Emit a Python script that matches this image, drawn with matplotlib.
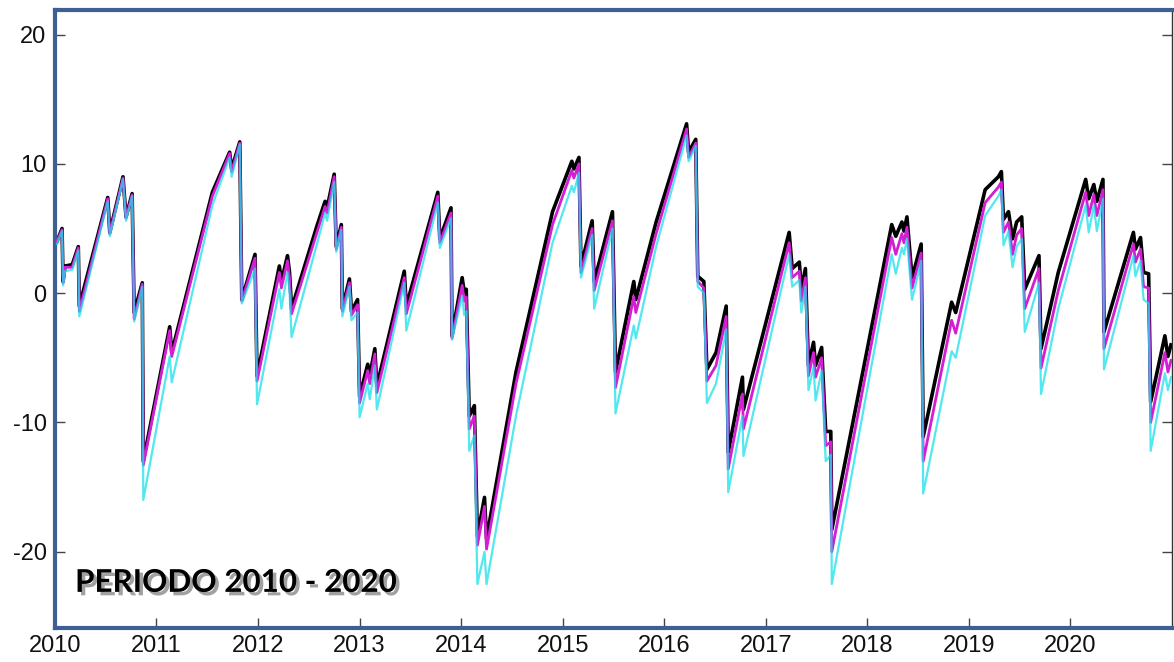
import matplotlib
matplotlib.use("Agg")
import matplotlib.pyplot as plt
import matplotlib.patheffects as pe

# breakpoints of the series (decimal year, value)
years = [2010.02, 2010.07, 2010.08, 2010.10, 2010.17, 2010.23, 2010.24, 2010.52, 2010.54,
         2010.67, 2010.70, 2010.76, 2010.78, 2010.86, 2010.87, 2011.13, 2011.15, 2011.55,
         2011.72, 2011.74, 2011.82, 2011.84, 2011.97, 2011.99, 2012.21, 2012.23, 2012.29,
         2012.31, 2012.33, 2012.58, 2012.66, 2012.68, 2012.75, 2012.77, 2012.82, 2012.83,
         2012.90, 2012.92, 2012.98, 2013.00, 2013.08, 2013.10, 2013.15, 2013.17, 2013.44,
         2013.46, 2013.77, 2013.79, 2013.90, 2013.91, 2014.01, 2014.03, 2014.05, 2014.08,
         2014.13, 2014.16, 2014.23, 2014.25, 2014.54, 2014.90, 2015.09, 2015.11, 2015.16,
         2015.18, 2015.29, 2015.31, 2015.49, 2015.52, 2015.70, 2015.72, 2015.92, 2016.22,
         2016.24, 2016.31, 2016.33, 2016.39, 2016.42, 2016.51, 2016.61, 2016.63, 2016.77,
         2016.78, 2017.23, 2017.26, 2017.33, 2017.35, 2017.39, 2017.42, 2017.47, 2017.49,
         2017.55, 2017.59, 2017.64, 2017.65, 2018.24, 2018.28, 2018.34, 2018.36, 2018.39,
         2018.44, 2018.53, 2018.55, 2018.83, 2018.87, 2019.16, 2019.29, 2019.32, 2019.34,
         2019.39, 2019.43, 2019.47, 2019.52, 2019.55, 2019.69, 2019.71, 2019.88, 2020.15,
         2020.18, 2020.23, 2020.26, 2020.32, 2020.33, 2020.62, 2020.64, 2020.69, 2020.72,
         2020.77, 2020.79, 2020.93, 2020.96, 2020.99]

black = [4.0, 5.0, 0.9, 2.1, 2.2, 3.6, -1.0, 7.4, 4.7,
         9.0, 5.9, 7.7, -1.5, 0.8, -13.0, -2.6, -4.6, 7.8,
         10.9, 9.6, 11.7, -0.5, 3.0, -6.4, 2.1, 0.9, 2.9,
         1.6, -1.2, 5.2, 7.1, 6.6, 9.2, 3.6, 5.3, -1.2,
         1.1, -1.4, -0.5, -8.0, -5.5, -6.4, -4.3, -7.2, 1.7,
         -1.0, 7.8, 4.2, 6.6, -3.3, 1.2, 0.1, 0.3, -9.5,
         -8.7, -18.8, -15.8, -19.0, -6.1, 6.3, 10.2, 9.6, 10.5,
         2.1, 5.6, 0.9, 6.3, -6.1, 0.9, -0.5, 5.5, 13.1,
         10.9, 11.9, 1.3, 0.9, -5.9, -4.6, -1.0, -12.3, -6.5,
         -9.0, 4.7, 1.9, 2.4, 0.3, 1.9, -5.6, -3.8, -5.6,
         -4.2, -10.7, -10.7, -18.3, 5.3, 4.4, 5.5, 4.8, 5.9,
         1.2, 3.8, -11.1, -0.7, -1.5, 8.0, 9.0, 9.4, 5.7,
         6.3, 4.2, 5.5, 5.9, 0.3, 2.9, -4.3, 1.6, 8.8,
         7.3, 8.4, 7.1, 8.8, -3.0, 4.7, 3.4, 4.3, 1.6,
         1.5, -8.4, -3.3, -4.9, -4.0]

magenta = [4.0, 4.9, 0.8, 2.0, 2.0, 3.5, -1.4, 7.3, 4.6,
           8.9, 5.8, 7.6, -2.0, 0.7, -13.3, -2.9, -4.9, 7.5,
           10.8, 9.4, 11.6, -0.6, 2.7, -6.8, 1.6, 0.4, 2.5,
           1.2, -1.6, 4.7, 6.7, 6.2, 9.0, 3.4, 5.1, -1.4,
           0.8, -1.7, -0.9, -8.5, -6.0, -7.0, -4.7, -7.7, 1.2,
           -1.6, 7.5, 3.9, 6.2, -3.5, 0.6, -0.6, -0.3, -10.5,
           -9.5, -19.5, -16.5, -19.8, -7.0, 5.3, 9.5, 8.9, 10.0,
           1.6, 5.0, 0.2, 5.6, -7.3, -0.3, -1.5, 4.6, 12.7,
           10.5, 11.6, 0.9, 0.4, -6.8, -5.6, -1.8, -13.6, -7.8,
           -10.5, 3.9, 1.2, 1.7, -0.6, 1.2, -6.4, -4.6, -6.5,
           -5.0, -11.8, -11.5, -20.0, 4.3, 3.0, 4.6, 3.9, 5.1,
           0.4, 3.1, -13.0, -2.1, -3.1, 7.0, 8.2, 8.6, 4.7,
           5.5, 3.0, 4.5, 5.0, -1.2, 1.9, -5.8, 0.2, 7.8,
           6.0, 7.6, 6.0, 8.0, -4.3, 3.8, 2.4, 3.4, 0.5,
           0.4, -10.0, -4.6, -6.1, -5.2]

cyan = [3.8, 4.8, 0.6, 1.7, 1.8, 3.3, -1.8, 7.1, 4.4,
        8.8, 5.6, 7.5, -2.2, 0.5, -16.0, -4.9, -6.9, 6.8,
        10.5, 9.0, 11.5, -0.8, 1.9, -8.6, 0.3, -1.2, 1.6,
        0.2, -3.4, 3.8, 6.2, 5.6, 8.6, 3.2, 4.9, -1.8,
        0.5, -2.1, -1.5, -9.6, -7.0, -8.2, -5.6, -9.0, 0.8,
        -2.9, 7.0, 3.5, 5.8, -3.6, -0.2, -1.7, -1.4, -12.2,
        -11.0, -22.5, -20.0, -22.5, -9.5, 3.9, 8.3, 7.8, 9.3,
        1.2, 4.5, -1.2, 5.0, -9.3, -2.5, -3.5, 3.6, 12.2,
        10.2, 11.4, 0.5, 0.0, -8.5, -7.0, -2.8, -15.4, -9.5,
        -12.6, 3.0, 0.5, 1.0, -1.5, 0.5, -7.5, -5.7, -8.3,
        -6.0, -13.0, -12.5, -22.5, 3.0, 1.5, 3.5, 3.0, 4.2,
        -0.5, 2.5, -15.5, -4.5, -5.0, 6.0, 7.5, 8.0, 3.7,
        4.8, 2.0, 3.6, 4.2, -3.0, 0.8, -7.8, -1.2, 6.8,
        4.7, 6.8, 4.8, 7.3, -5.9, 2.9, 1.3, 2.5, -0.5,
        -0.8, -12.2, -6.2, -7.5, -6.5]

xticks = list(range(2010, 2021))
yticks = [-20, -10, 0, 10, 20]

plt.rcParams['font.family'] = ['Liberation Sans', 'DejaVu Sans']

fig = plt.figure(figsize=(11.74, 6.62), dpi=100)
ax = fig.add_axes([0.0468, 0.0514, 0.9515, 0.9335])

ax.plot(years, black, color='black', linewidth=2.6, zorder=2)
ax.plot(years, magenta, color='#d21fd2', linewidth=2.0, zorder=3)
ax.plot(years, cyan, color='#19e0ea', linewidth=1.6, alpha=0.75, zorder=4)

ax.set_xlim(2010, 2021.0)
ax.set_ylim(-25.9, 21.9)
ax.set_xticks(xticks)
ax.set_xticklabels([str(y) for y in xticks])
ax.set_yticks(yticks)
ax.set_yticklabels([str(v) for v in yticks])

ax.tick_params(axis='both', direction='in', length=7, width=1, color='#444444',
               labelsize=17, labelcolor='#111111')
ax.tick_params(axis='y', right=True, pad=6)
ax.tick_params(axis='x', pad=5)

border = '#3d5f93'
for side in ['left', 'top', 'bottom']:
    ax.spines[side].set_color(border)
    ax.spines[side].set_linewidth(3)
ax.spines['right'].set_color('#333333')
ax.spines['right'].set_linewidth(1)

ax.text(0.018, 0.073, 'PERIODO 2010 - 2020', transform=ax.transAxes,
        fontsize=22.6, fontweight='bold', family='Lato', color='black', va='center', ha='left',
        path_effects=[pe.SimplePatchShadow(offset=(2.5, -2.5), shadow_rgbFace='#555555', alpha=0.55),
                      pe.Normal()])

fig.savefig('out.png', dpi=100)
